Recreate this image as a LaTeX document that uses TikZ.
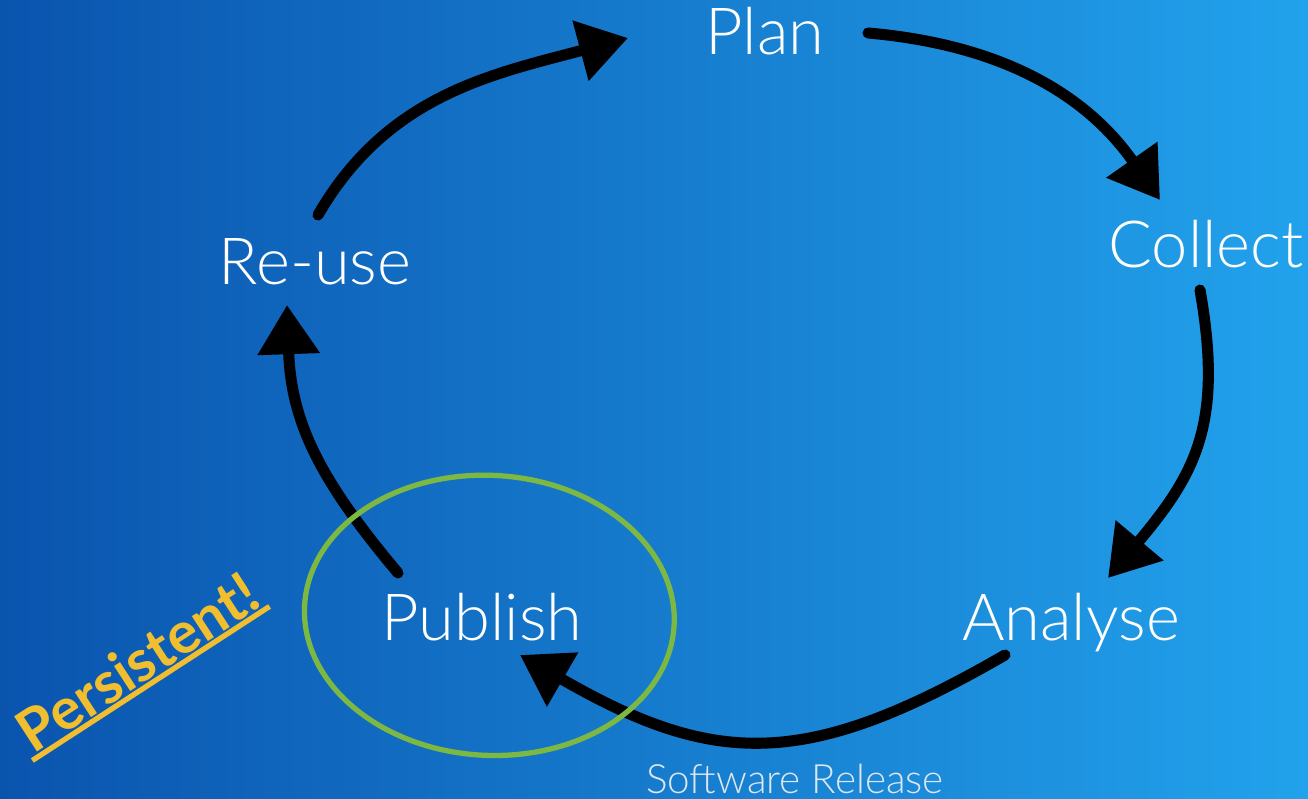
\documentclass[tikz,border=0pt]{standalone}
\usepackage{fontspec}
\setmainfont{Lato}
\newfontfamily\thinfont{Lato Light}
\usetikzlibrary{arrows.meta,positioning}
\definecolor{bgdark}{RGB}{10,84,174}
\definecolor{bglight}{RGB}{34,162,236}
\definecolor{ringgreen}{RGB}{125,184,67}
\definecolor{noteyellow}{RGB}{240,190,46}
\definecolor{softgray}{RGB}{222,230,238}

\begin{document}
\begin{tikzpicture}[x=0.02cm,y=0.02cm,
  stage/.style={text=white, font=\thinfont\fontsize{37}{44}\selectfont, anchor=base, inner sep=0pt},
  cycle/.style={line width=6.3pt, black, line cap=round, -{Triangle[length=28pt,width=34pt]}}]
% Background
\useasboundingbox (0,0) rectangle (1308,798);
\shade[left color=bgdark, right color=bglight] (0,0) rectangle (1308,798);
% Stages
\node[stage] (plan) at (765,743) {Plan};
\node[stage] (collect) at (1206,530) {Collect};
\node[stage] (analyse) at (1071,157) {Analyse};
\node[stage] (publish) at (482,157) {Publish};
\node[stage] (reuse) at (315,513) {Re-use};
\node[text=softgray, font=\thinfont\fontsize{23}{28}\selectfont, anchor=base, inner sep=0pt] (release) at (795,5) {Software Release};
% Cycle arrows
\draw[cycle] ([shift={(3,70)}]reuse.base) to[out=60,in=195] ([shift={(-137,17)}]plan.base);
\draw[cycle] ([shift={(103,22)}]plan.base) to[out=-5,in=125] ([shift={(-46,68)}]collect.base);
\draw[cycle] ([shift={(-6,-22)}]collect.base) to[out=-80,in=50,looseness=1.15] ([shift={(37,63)}]analyse.base);
\draw[cycle] ([shift={(-66,-14)}]analyse.base) to[out=-150,in=-30,looseness=1.2] ([shift={(38,-14)}]publish.base);
\draw[cycle] ([shift={(-84,68)}]publish.base) to[out=130,in=-88,looseness=1.05] ([shift={(-28,-20)}]reuse.base);
% Ring round Publish
\draw[ringgreen, line width=3pt, rotate around={-3:(488,183)}] ([shift={(6,26)}]publish.base) ellipse [x radius=185, y radius=140];
% Note
\node[text=noteyellow, font=\bfseries\fontsize{33}{40}\selectfont, rotate=33, inner sep=2pt] (note) at (137,136) {Persistent!};
\draw[noteyellow, line width=3pt] (note.south west) -- (note.south east);
\end{tikzpicture}
\end{document}
